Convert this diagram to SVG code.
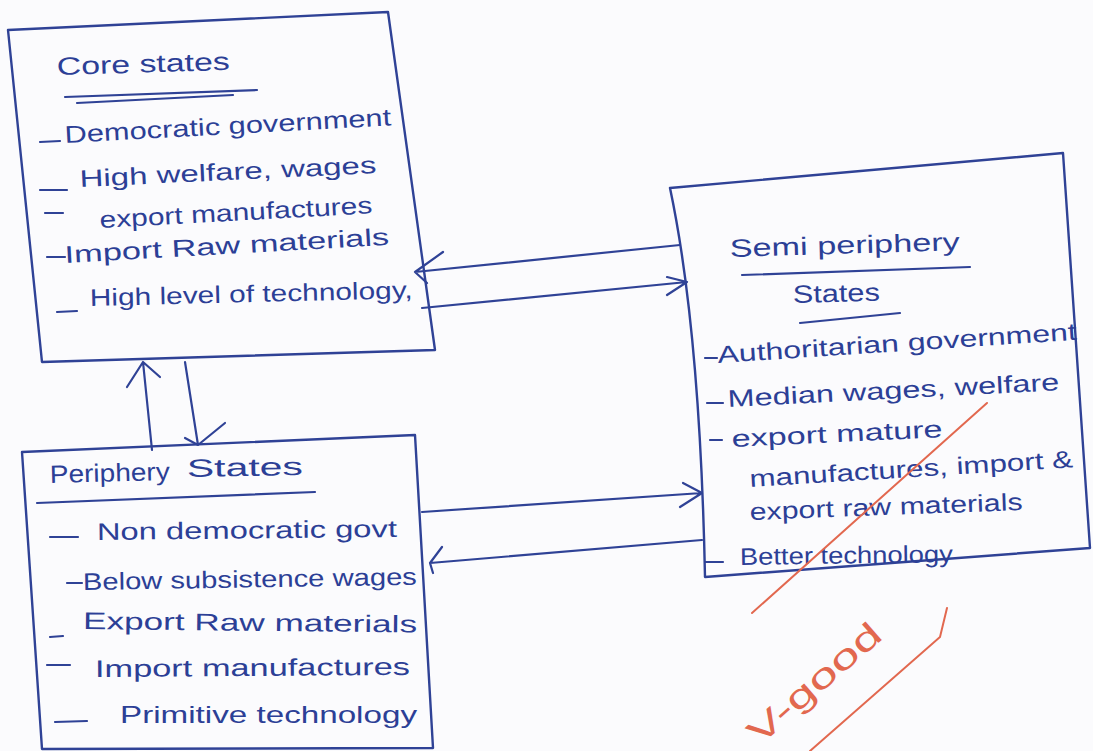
<svg xmlns="http://www.w3.org/2000/svg" width="1093" height="751" viewBox="0 0 1093 751">
<style>
.box{fill:none;stroke:#2f4296;stroke-width:2.4;stroke-linejoin:round}
.ln{fill:none;stroke:#2f4296;stroke-width:2.2;stroke-linecap:round;stroke-linejoin:round}
.t{font-family:"Liberation Sans",Arial,sans-serif;font-size:24px;fill:#2c3f96}
.h{font-family:"Liberation Sans",Arial,sans-serif;font-size:25px;fill:#2c3f96}
.red{fill:none;stroke:#e2684f;stroke-width:2;stroke-linecap:round}
.rt{font-family:"Liberation Sans",Arial,sans-serif;font-size:34px;fill:#e2684f}
</style>
<rect width="1093" height="751" fill="#fbfbfd"/>

<g id="core">
<path class="box" d="M8,30 L388,12 L435,350 L42,362 Z"/>
<text class="h" x="57" y="75" textLength="173" lengthAdjust="spacingAndGlyphs" transform="rotate(-1.7 57 75)">Core states</text>
<path class="ln" d="M65,97 L257,90 M77,103 L233,95"/>
<path class="ln" d="M40,142 L60,141 M40,190 L67,190 M45,213 L63,213 M47,257 L65,257 M57,312 L77,311"/>
<text class="t" x="65" y="143" textLength="327" lengthAdjust="spacingAndGlyphs" transform="rotate(-3.1 65 143)">Democratic government</text>
<text class="t" x="80" y="187" textLength="297" lengthAdjust="spacingAndGlyphs" transform="rotate(-2.7 80 187)">High welfare, wages</text>
<text class="t" x="100" y="228" textLength="273" lengthAdjust="spacingAndGlyphs" transform="rotate(-3.1 100 228)">export manufactures</text>
<text class="t" x="65" y="263" textLength="325" lengthAdjust="spacingAndGlyphs" transform="rotate(-3.2 65 263)">Import Raw materials</text>
<text class="t" x="90" y="306" textLength="323" lengthAdjust="spacingAndGlyphs" transform="rotate(-1.4 90 306)">High level of technology,</text>
</g>

<g id="semi">
<path class="box" d="M670,188 L1063,153 L1090,548 L705,577 Q700,330 670,188 Z"/>
<text class="h" x="730" y="257" textLength="230" lengthAdjust="spacingAndGlyphs" transform="rotate(-1.7 730 257)">Semi periphery</text>
<path class="ln" d="M742,275 L970,267"/>
<text class="h" x="793" y="303" textLength="87" lengthAdjust="spacingAndGlyphs" transform="rotate(-1.5 793 303)">States</text>
<path class="ln" d="M800,323 L900,313"/>
<path class="ln" d="M705,358 L717,358 M707,403 L723,403 M710,440 L722,440 M705,562 L723,562"/>
<text class="t" x="718" y="363" textLength="360" lengthAdjust="spacingAndGlyphs" transform="rotate(-3.7 718 363)">Authoritarian government</text>
<text class="t" x="728" y="407" textLength="332" lengthAdjust="spacingAndGlyphs" transform="rotate(-2.9 728 407)">Median wages, welfare</text>
<text class="t" x="732" y="447" textLength="211" lengthAdjust="spacingAndGlyphs" transform="rotate(-2.7 732 447)">export mature</text>
<text class="t" x="750" y="487" textLength="324" lengthAdjust="spacingAndGlyphs" transform="rotate(-3.5 750 487)">manufactures, import &amp;</text>
<text class="t" x="750" y="520" textLength="273" lengthAdjust="spacingAndGlyphs" transform="rotate(-2.1 750 520)">export raw materials</text>
<text class="t" x="740" y="565" textLength="213" lengthAdjust="spacingAndGlyphs" transform="rotate(-0.8 740 565)">Better technology</text>
</g>

<g id="periphery">
<path class="box" d="M22,452 L415,435 L433,748 L42,749 Z"/>
<text class="h" x="50" y="483" textLength="120" lengthAdjust="spacingAndGlyphs" transform="rotate(-1.5 50 483)">Periphery</text>
<text class="h" x="187" y="477" textLength="116" lengthAdjust="spacingAndGlyphs" transform="rotate(-1 187 477)">States</text>
<path class="ln" d="M37,503 L315,492"/>
<path class="ln" d="M50,537 L78,537 M67,583 L82,583 M50,637 L63,636 M47,665 L70,665 M55,722 L87,721"/>
<text class="t" x="97" y="540" textLength="300" lengthAdjust="spacingAndGlyphs" transform="rotate(-0.6 97 540)">Non democratic govt</text>
<text class="t" x="83" y="590" textLength="334" lengthAdjust="spacingAndGlyphs" transform="rotate(-0.9 83 590)">Below subsistence wages</text>
<text class="t" x="83" y="629" textLength="334" lengthAdjust="spacingAndGlyphs" transform="rotate(0.6 83 629)">Export Raw materials</text>
<text class="t" x="95" y="677" textLength="315" lengthAdjust="spacingAndGlyphs" transform="rotate(-0.4 95 677)">Import manufactures</text>
<text class="t" x="120" y="723" textLength="297" lengthAdjust="spacingAndGlyphs">Primitive technology</text>
</g>

<g id="connectors">
<path class="ln" d="M680,245 L415,272 M443,252 L415,272 L427,283"/>
<path class="ln" d="M422,308 L687,282 M667,277 L687,282 L667,295"/>
<path class="ln" d="M422,512 L702,493 M683,483 L702,493 L680,507"/>
<path class="ln" d="M702,540 L430,563 M442,547 L430,563 L433,573"/>
<path class="ln" d="M152,450 L143,362 M127,387 L143,362 L160,377"/>
<path class="ln" d="M185,362 L198,445 M185,438 L198,445 L225,423"/>
</g>

<g id="marking">
<path class="red" d="M987,403 L752,613"/>
<path class="red" d="M947,608 L940,637 L810,751"/>
<text class="rt" x="822" y="692" text-anchor="middle" textLength="165" lengthAdjust="spacingAndGlyphs" transform="rotate(-41 822 692)">V-good</text>
</g>
</svg>
